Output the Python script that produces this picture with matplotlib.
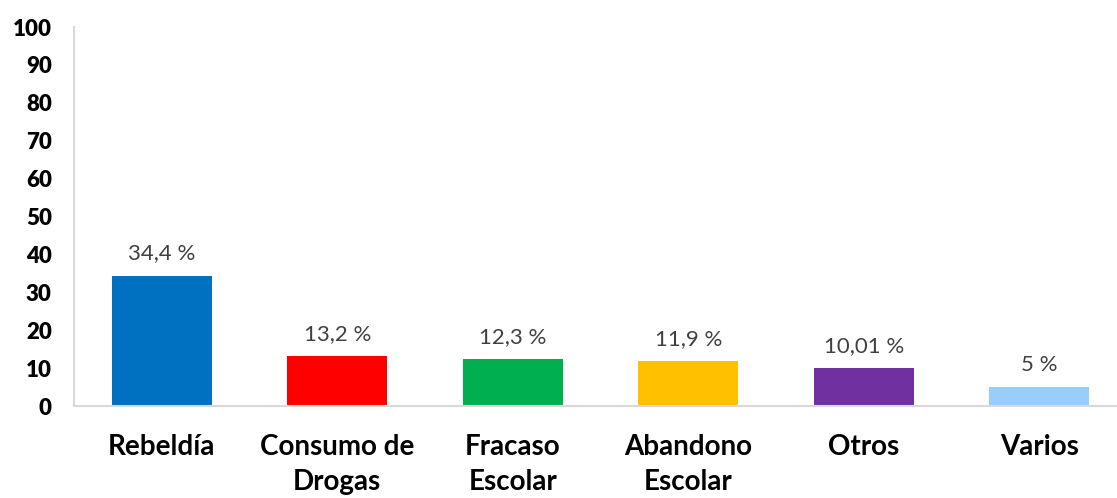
import matplotlib
matplotlib.use('Agg')
import matplotlib.pyplot as plt
import numpy as np

plt.rcParams['font.family'] = ['Lato', 'DejaVu Sans']

categorias = ['Rebeldía', 'Consumo de\nDrogas', 'Fracaso\nEscolar', 'Abandono\nEscolar', 'Otros', 'Varios']
valores = [34.4, 13.2, 12.3, 11.9, 10.01, 5]
etiquetas = ['34,4 %', '13,2 %', '12,3 %', '11,9 %', '10,01 %', '5 %']
colores = ['#0070c0', '#ff0000', '#00b050', '#ffc000', '#7030a0', '#99ccff']

fig = plt.figure(figsize=(11.17, 4.98), dpi=100)
ax = fig.add_axes([74/1117, 92/498, 1053/1117, 379/498])

x = np.arange(len(categorias))
ax.bar(x, valores, width=0.57, color=colores)
for xi, v, t in zip(x, valores, etiquetas):
    ax.text(xi, v + 3.2, t, ha='center', va='bottom', fontsize=16, color='#404040')

ax.set_xlim(-0.5, len(categorias) - 0.5)
ax.set_ylim(0, 100)
ax.set_yticks(range(0, 101, 10))
ax.set_xticks(x)
ax.set_xticklabels(categorias, fontsize=20, fontweight='bold', linespacing=1.45)
for lab in ax.get_yticklabels():
    lab.set_fontweight('heavy')
    lab.set_fontsize(16)
ax.tick_params(axis='y', length=0, pad=16)
ax.tick_params(axis='x', length=0, pad=20)
for s in ['top', 'right']:
    ax.spines[s].set_visible(False)
ax.spines['left'].set_color('#d9d9d9')
ax.spines['bottom'].set_color('#d9d9d9')
ax.spines['left'].set_linewidth(1.5)
ax.spines['bottom'].set_linewidth(1.5)

fig.savefig('out.png', dpi=100)
